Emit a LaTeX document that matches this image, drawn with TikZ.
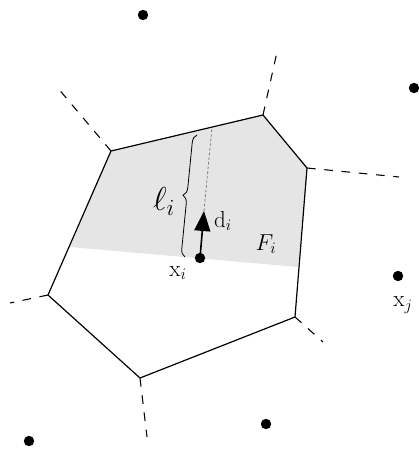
\documentclass[tikz,border=0pt]{standalone}
\usetikzlibrary{arrows.meta,decorations.pathreplacing}
\begin{document}
\begin{tikzpicture}[x=0.75pt,y=-0.75pt,
  site/.style={circle,fill=black,inner sep=0pt,minimum size=7.8pt},
  edge/.style={line width=0.9pt},
  faredge/.style={line width=0.8pt,dash pattern=on 6.5pt off 6.5pt},
  lbl/.style={inner sep=1pt,font=\fontsize{17}{20}\selectfont}]
\useasboundingbox (0,0) rectangle (418,456);
% vertices
\coordinate (A) at (111,151);
\coordinate (B) at (263,115);
\coordinate (C) at (307,168);
\coordinate (D) at (295,317);
\coordinate (E) at (140,378);
\coordinate (F) at (48,295);
\coordinate (GL) at (70,247);
\coordinate (GR) at (298,267);
% grey region
\fill[black!10] (GL) -- (A) -- (B) -- (C) -- (GR) -- cycle;
% cell
\draw[edge,line join=round] (A) -- (B) -- (C) -- (D) -- (E) -- (F) -- cycle;
% far edges
\coordinate (Aout) at (57,87);
\coordinate (Bout) at (277,52);
\coordinate (Cout) at (399,177);
\coordinate (Dout) at (323,342);
\coordinate (Eout) at (147,437);
\coordinate (Fout) at (10,303);
\draw[faredge] (A) -- (Aout);
\draw[faredge] (B) -- (Bout);
\draw[faredge] (C) -- (Cout);
\draw[faredge] (D) -- (Dout);
\draw[faredge] (E) -- (Eout);
\draw[faredge] (F) -- (Fout);
% sites
\node[site] (s1) at (143,15) {};
\node[site] (s2) at (414,88) {};
\node[site] (xj) at (398,276) {};
\node[site] (s4) at (266,424) {};
\node[site] (s5) at (29,441) {};
\node[site] (xi) at (200,258) {};
% direction
\coordinate (tip) at (204,211);
\coordinate (top) at (212,127);
\draw[gray,line width=0.6pt,dash pattern=on 2pt off 1.5pt] (tip) -- (top);
\draw[line width=1.2pt,-{Triangle[length=15pt,width=12pt]}] (xi.center) -- (tip);
% brace
\coordinate (br1) at (185,257);
\coordinate (br2) at (197,135);
\draw[line width=0.6pt,decorate,decoration={brace,amplitude=6pt}] (br1) -- (br2);
% labels
\node[lbl] (lxi) at (178,273) {$\mathrm{x}_i$};
\node[lbl] (lxj) at (403,305) {$\mathrm{x}_j$};
\node[lbl] (lF) at (266,244) {$F_i$};
\node[lbl] (ld) at (223,221) {$\mathrm{d}_i$};
\node[lbl,font=\fontsize{23}{27}\selectfont] (ll) at (164,201) {$\ell_i$};
\end{tikzpicture}
\end{document}
